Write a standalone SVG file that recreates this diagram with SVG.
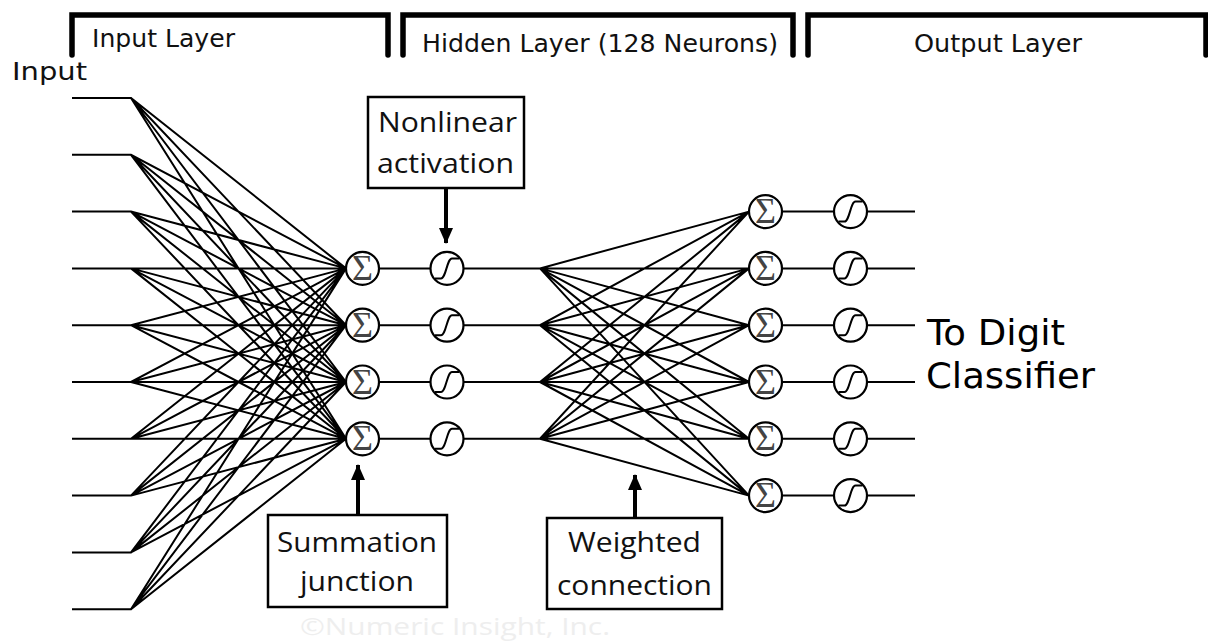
<svg xmlns="http://www.w3.org/2000/svg" xmlns:xlink="http://www.w3.org/1999/xlink" width="1208" height="644" viewBox="0 0 1208 644">
  <style>
    .bracket { fill: none; stroke: #000; stroke-width: 5.5; stroke-linecap: round; stroke-linejoin: miter; }
    .head { font-family: "DejaVu Sans", Verdana, sans-serif; font-size: 24px; fill: #111; }
    .big { font-family: "DejaVu Sans", Verdana, sans-serif; font-size: 36px; fill: #000; }
    .note { font-family: "Open Sans", "Liberation Sans", sans-serif; font-size: 28px; fill: #111; }
    .mark { font-family: "Open Sans", "Liberation Sans", sans-serif; font-size: 24px; fill: #eeeeee; }
    .wire { fill: none; stroke: #000; stroke-width: 2; }
    .box { fill: #fff; stroke: #000; stroke-width: 2.5; }
    .ring { fill: #fff; stroke: #000; stroke-width: 2.2; }
    .sig { font-family: "Liberation Serif", "DejaVu Serif", serif; font-size: 36px; fill: #444; }
    .curve { fill: none; stroke: #000; stroke-width: 2; }
    .pointer { stroke: #000; stroke-width: 4; fill: none; }
  </style>
  <defs>
    <marker id="tip" markerUnits="userSpaceOnUse" markerWidth="16" markerHeight="16" viewBox="0 0 16 16" refX="15" refY="8" orient="auto">
      <path d="M0,1 L16,8 L0,15 Z" fill="#000"/>
    </marker>
    <g id="sumGlyph">
      <circle class="ring" r="16.5"/>
      <text class="sig" x="0" y="11.5" text-anchor="middle">Σ</text>
    </g>
    <g id="actGlyph">
      <circle class="ring" r="16.5"/>
      <path class="curve" d="M-12,10 H-6 C-1,10 0,-10 5,-10 H12"/>
    </g>
  </defs>

  <rect width="1208" height="644" fill="#fff"/>

  <!-- layer brackets -->
  <g id="brackets">
    <path class="bracket" d="M72,55 V15 H388 V55"/>
    <path class="bracket" d="M403,55 V15 H793 V55"/>
    <path class="bracket" d="M808,55 V15 H1206 V55"/>
    <text class="head" x="92" y="47" textLength="143" lengthAdjust="spacingAndGlyphs">Input Layer</text>
    <text class="head" x="422" y="52" textLength="356" lengthAdjust="spacingAndGlyphs">Hidden Layer (128 Neurons)</text>
    <text class="head" x="914" y="52" textLength="168" lengthAdjust="spacingAndGlyphs">Output Layer</text>
  </g>

  <text id="input-label" class="head" x="12" y="80" font-size="25" textLength="75" lengthAdjust="spacingAndGlyphs">Input</text>

  <!-- connectors -->
  <g id="connectors">
    <!-- inputs fanning into the four summation junctions -->
    <path class="wire" d="
      M72,98 H131 L346,268.4 M131,98 L346,325.2 M131,98 L346,382 M131,98 L346,438.8
      M72,154.8 H131 L346,268.4 M131,154.8 L346,325.2 M131,154.8 L346,382 M131,154.8 L346,438.8
      M72,211.6 H131 L346,268.4 M131,211.6 L346,325.2 M131,211.6 L346,382 M131,211.6 L346,438.8
      M72,268.4 H131 L346,268.4 M131,268.4 L346,325.2 M131,268.4 L346,382 M131,268.4 L346,438.8
      M72,325.2 H131 L346,268.4 M131,325.2 L346,325.2 M131,325.2 L346,382 M131,325.2 L346,438.8
      M72,382 H131 L346,268.4 M131,382 L346,325.2 M131,382 L346,382 M131,382 L346,438.8
      M72,438.8 H131 L346,268.4 M131,438.8 L346,325.2 M131,438.8 L346,382 M131,438.8 L346,438.8
      M72,495.6 H131 L346,268.4 M131,495.6 L346,325.2 M131,495.6 L346,382 M131,495.6 L346,438.8
      M72,552.4 H131 L346,268.4 M131,552.4 L346,325.2 M131,552.4 L346,382 M131,552.4 L346,438.8
      M72,609.2 H131 L346,268.4 M131,609.2 L346,325.2 M131,609.2 L346,382 M131,609.2 L346,438.8"/>
    <!-- summation to activation -->
    <path class="wire" d="M379,268.4 H430.5 M379,325.2 H430.5 M379,382 H430.5 M379,438.8 H430.5"/>
    <!-- hidden activations fanning into the six output junctions -->
    <path class="wire" d="
      M463.5,268.4 H540 L749,211.6 M540,268.4 L749,268.4 M540,268.4 L749,325.2 M540,268.4 L749,382 M540,268.4 L749,438.8 M540,268.4 L749,495.6
      M463.5,325.2 H540 L749,211.6 M540,325.2 L749,268.4 M540,325.2 L749,325.2 M540,325.2 L749,382 M540,325.2 L749,438.8 M540,325.2 L749,495.6
      M463.5,382 H540 L749,211.6 M540,382 L749,268.4 M540,382 L749,325.2 M540,382 L749,382 M540,382 L749,438.8 M540,382 L749,495.6
      M463.5,438.8 H540 L749,211.6 M540,438.8 L749,268.4 M540,438.8 L749,325.2 M540,438.8 L749,382 M540,438.8 L749,438.8 M540,438.8 L749,495.6"/>
    <!-- output summation to activation to outputs -->
    <path class="wire" d="
      M782,211.6 H834 M867,211.6 H915
      M782,268.4 H834 M867,268.4 H915
      M782,325.2 H834 M867,325.2 H915
      M782,382 H834 M867,382 H915
      M782,438.8 H834 M867,438.8 H915
      M782,495.6 H834 M867,495.6 H915"/>
    <!-- callout pointers -->
    <line class="pointer" x1="446" y1="188" x2="446" y2="243" marker-end="url(#tip)"/>
    <line class="pointer" x1="358" y1="515" x2="358" y2="465" marker-end="url(#tip)"/>
    <line class="pointer" x1="635" y1="518" x2="635" y2="475" marker-end="url(#tip)"/>
  </g>

  <!-- hidden layer nodes -->
  <g id="hidden-sum-1" transform="translate(362.5,268.4)"><use xlink:href="#sumGlyph"/></g>
  <g id="hidden-sum-2" transform="translate(362.5,325.2)"><use xlink:href="#sumGlyph"/></g>
  <g id="hidden-sum-3" transform="translate(362.5,382)"><use xlink:href="#sumGlyph"/></g>
  <g id="hidden-sum-4" transform="translate(362.5,438.8)"><use xlink:href="#sumGlyph"/></g>
  <g id="hidden-act-1" transform="translate(447,268.4)"><use xlink:href="#actGlyph"/></g>
  <g id="hidden-act-2" transform="translate(447,325.2)"><use xlink:href="#actGlyph"/></g>
  <g id="hidden-act-3" transform="translate(447,382)"><use xlink:href="#actGlyph"/></g>
  <g id="hidden-act-4" transform="translate(447,438.8)"><use xlink:href="#actGlyph"/></g>

  <!-- output layer nodes -->
  <g id="output-sum-1" transform="translate(765.5,211.6)"><use xlink:href="#sumGlyph"/></g>
  <g id="output-sum-2" transform="translate(765.5,268.4)"><use xlink:href="#sumGlyph"/></g>
  <g id="output-sum-3" transform="translate(765.5,325.2)"><use xlink:href="#sumGlyph"/></g>
  <g id="output-sum-4" transform="translate(765.5,382)"><use xlink:href="#sumGlyph"/></g>
  <g id="output-sum-5" transform="translate(765.5,438.8)"><use xlink:href="#sumGlyph"/></g>
  <g id="output-sum-6" transform="translate(765.5,495.6)"><use xlink:href="#sumGlyph"/></g>
  <g id="output-act-1" transform="translate(850.5,211.6)"><use xlink:href="#actGlyph"/></g>
  <g id="output-act-2" transform="translate(850.5,268.4)"><use xlink:href="#actGlyph"/></g>
  <g id="output-act-3" transform="translate(850.5,325.2)"><use xlink:href="#actGlyph"/></g>
  <g id="output-act-4" transform="translate(850.5,382)"><use xlink:href="#actGlyph"/></g>
  <g id="output-act-5" transform="translate(850.5,438.8)"><use xlink:href="#actGlyph"/></g>
  <g id="output-act-6" transform="translate(850.5,495.6)"><use xlink:href="#actGlyph"/></g>

  <!-- callout boxes -->
  <g id="note-activation">
    <rect class="box" x="368" y="97" width="156" height="91"/>
    <text class="note" x="378" y="132" textLength="139" lengthAdjust="spacingAndGlyphs">Nonlinear</text>
    <text class="note" x="377" y="173" textLength="137" lengthAdjust="spacingAndGlyphs">activation</text>
  </g>
  <g id="note-summation">
    <rect class="box" x="268" y="515" width="179" height="92"/>
    <text class="note" x="277" y="552" textLength="160" lengthAdjust="spacingAndGlyphs">Summation</text>
    <text class="note" x="300" y="591" textLength="114" lengthAdjust="spacingAndGlyphs">junction</text>
  </g>
  <g id="note-weighted">
    <rect class="box" x="547" y="518" width="175" height="91"/>
    <text class="note" x="568" y="552" textLength="133" lengthAdjust="spacingAndGlyphs">Weighted</text>
    <text class="note" x="557" y="595" textLength="155" lengthAdjust="spacingAndGlyphs">connection</text>
  </g>

  <g id="classifier-label">
    <text class="big" x="927" y="345" textLength="138" lengthAdjust="spacingAndGlyphs">To Digit</text>
    <text class="big" x="926" y="388" textLength="169" lengthAdjust="spacingAndGlyphs">Classifier</text>
  </g>

  <text class="mark" x="300" y="635" textLength="310" lengthAdjust="spacingAndGlyphs">©Numeric Insight, Inc.</text>
</svg>
